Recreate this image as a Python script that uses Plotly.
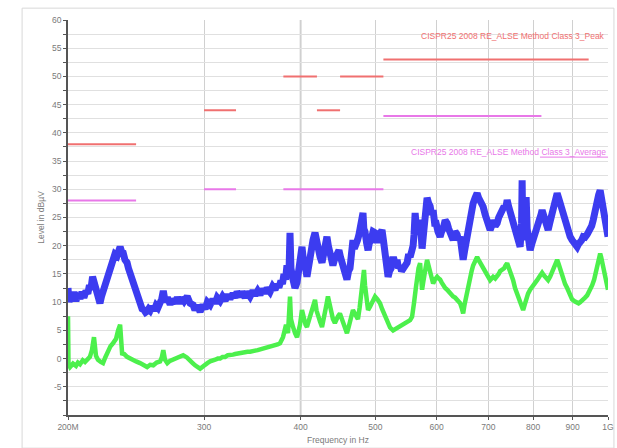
import plotly.graph_objects as go

# Frequency axis in MHz (log scale), levels in dBµV
peak_freq = [200, 200.6, 201.5, 202.4, 203.6, 204.8, 206, 207.3, 208.5, 209.7, 211, 212.2, 213.2, 214.1,
             215.2, 216.1, 217, 218, 219, 220, 221, 222, 223.3, 224.6, 225.6, 226.7, 227.7, 228.7, 230,
             231.5, 232.5, 233.6, 234.6, 235.7, 237, 238.5, 239.5, 240.6, 241.7, 242.8, 244.2, 245.6,
             246.7, 247.9, 249.4, 250.9, 252, 253.2, 254.3, 255.5, 257, 258.5, 260, 261.5, 263.2,
             264.5, 265.7, 267.2, 269, 271.2, 273, 275.2, 277, 279.4, 281, 282.8, 285.3, 287.8, 290.4,
             292, 293.9, 296.5, 299, 301, 303, 305.5, 308, 310.1, 312, 314.7, 317, 319.5, 322, 324.2,
             327, 329.1, 331, 334, 336, 339, 341, 344.1, 347, 349.3, 352, 354.5, 357, 359.8, 362,
             365.2, 368, 370.7, 373, 375, 377.3, 379, 380.7, 382.5, 384.1, 386.4, 387.6, 388.7, 391.1,
             393.4, 395.8, 398.2, 400, 401.7, 403, 404.1, 406, 407.7, 409.5, 411.4, 413, 415.1, 417.6,
             419.5, 421.3, 424, 426.4, 428.5, 430.2, 432.7, 434.5, 436.6, 438.5, 440.5, 442.5, 444.5,
             448.5, 450.5, 452.5, 454.5, 456.6, 459.3, 461.5, 463.5, 465.5, 467.6, 469.5, 471.8, 474,
             476.1, 479.0, 481.8, 483, 484.7, 487, 489.1, 491, 493.5, 496.5, 499.4, 501.5, 503.9, 507,
             509.9, 512, 514.6, 517, 519.2, 521.5, 523.9, 526, 528.6, 531, 533.3, 535.5, 538.1, 540.5,
             543, 546, 549.5, 552, 554.4, 557, 559.4, 561, 562.8, 565, 567.8, 569.5, 571.2, 573,
             574.6, 576.5, 578.0, 580.5, 583.2, 586, 588.5, 591, 593.8, 596.5, 599.1, 602.5, 606.3,
             609, 611.8, 615.5, 619.1, 622, 624.7, 627.5, 630.3, 634, 637.8, 640.5, 643.6, 646.5,
             649.4, 652, 655.2, 659, 663.1, 666, 669, 673, 677, 680, 683.1, 686, 689.3, 693.5, 697.5,
             700.5, 703.8, 707, 710.1, 714.5, 718.6, 722, 725.1, 729.5, 733.8, 737, 740.4, 743.5, 747,
             750.5, 753.7, 757, 760.5, 764, 767.3, 769.6, 773.0, 774.2, 775.4, 778.9, 781, 783.5,
             785.9, 789.5, 792.9, 797.5, 802.4, 806, 809.6, 813, 816.9, 819, 821.7, 825.5, 829.1,
             833, 836.6, 840.5, 844.1, 848, 851.8, 855.5, 859.4, 863, 867.1, 871, 874.9, 880, 885.4,
             889, 893.3, 898.5, 904.1, 908, 912.2, 916, 920.4, 924.5, 928.6, 934, 939.8, 944, 948.2,
             952.5, 956.7, 962.5, 968.2, 972.5, 976.9, 979.8, 982.8, 987, 991.6, 995.5, 1000]
peak_level = [12.5, 10, 11.5, 10.5, 11.8, 10.2, 11.5, 10.6, 11.8, 10.8, 12, 11.5, 13, 12.2,
              14.5, 13.5, 12, 11, 10.5, 9.8, 11, 11.8, 13, 13.8, 14.8, 15.5, 16.8, 17.5, 18.5,
              18.2, 19.5, 19.8, 19, 18.8, 17.5, 17, 16, 15.2, 14, 13.3, 12.2, 11.2,
              10.2, 9.6, 8.8, 8.6, 8.2, 8.4, 8.8, 8.5, 9.2, 8.5, 9.4, 9.0, 9.8,
              10.6, 12, 10, 10.8, 9.6, 10.5, 9.8, 10.8, 9.8, 10.8, 10.2, 11, 9.8, 9.5,
              8.6, 9.4, 8.3, 9.5, 8.8, 10, 9.5, 10.5, 9.8, 10.8, 10.2, 11, 10.3, 11.3, 10.6,
              11.5, 10.8, 11.8, 11, 11.8, 10.8, 11.8, 11, 12, 11.2, 12, 11.3, 12.3, 11.6, 12.5,
              11.8, 12.8, 12.2, 13.2, 12.6, 13.8, 13.2, 15, 14, 16.5, 15, 22.3, 16, 14,
              12.5, 13.5, 16, 17.5, 19.8, 18, 17.5, 16, 14.5, 16.5, 18, 19.5, 21, 22.3,
              20.5, 19.5, 18, 17, 18.5, 19, 21.6, 20, 19, 17.5, 16.5, 17.5, 18,
              19.2, 18, 17, 16, 15, 14, 15.5, 16, 18.5, 21, 19.5, 20, 21,
              22, 24, 25.8, 23, 22.5, 20.5, 19.2, 20.5, 21, 22.5, 22.3, 21, 21, 22,
              22.8, 21, 19, 16.5, 14.5, 15.5, 16, 17.5, 17.5, 16.5, 17.5, 16, 16.5, 15.5,
              15.8, 16.5, 17, 18.5, 18, 19, 20, 22, 25.8, 23, 22, 24.5, 24, 22,
              19.5, 21.5, 24, 26.5, 28.5, 27.5, 27, 25.5, 26.3, 24, 24, 22.5, 21.6,
              22.5, 23, 24.5, 24, 23, 22.5, 21.5, 21, 22.5, 22, 21, 21.6, 19.5,
              17.5, 19, 21, 23.5, 25, 26.5, 27.5, 28.5, 29.3, 28.5, 28, 27, 26.9, 25.5, 24.5,
              23.5, 22.8, 23.5, 24.5, 23.5, 24, 25, 25.5, 26.5, 27, 26.5, 28.1, 27, 26,
              25.5, 24.6, 23.5, 22.5, 21.5, 20.5, 19.8, 24, 31.6, 24, 21, 25, 28.6,
              23, 21, 19.2, 20.5, 21.5, 22, 22.8, 23.5, 24.5, 25.5, 26.3, 25.5, 24.5,
              23.5, 22.8, 24, 25, 26, 27, 28.5, 29.3, 28.5, 27.5, 26, 25.1, 24, 23,
              22.5, 21.6, 21, 20.5, 20, 19.8, 20.3, 20.5, 21, 21.6, 21.5, 22, 22.5, 22.8,
              23.5, 24.5, 26.5, 28.6, 29, 29.8, 28.5, 27.5, 26, 24.6, 23, 21.6]

avg_freq = [200, 200.3, 201.2, 203, 204.8, 206, 207.3, 209, 210.4, 212, 213.5, 214.8, 216.1, 217.4,
            218.7, 220.5, 222, 223.5, 225.3, 227, 228.7, 230.8, 232.2, 233.6, 235, 236.5, 238.5,
            240.5, 242.8, 245, 247.9, 250.5, 253.2, 255.5, 257.9, 260.5, 263.2, 264.5, 265.7, 267,
            268.9, 271, 273.6, 275.5, 277.7, 280, 281.9, 285, 287.8, 290, 292.1, 294, 296.5, 299,
            301, 303, 305.5, 308, 310.1, 312.5, 314.7, 317, 319.5, 322, 324.2, 327, 329.1, 331.5,
            334, 336.5, 339, 341.5, 344.1, 347, 349.3, 352, 354.5, 357, 359.8, 362.5, 365.2, 368,
            370.7, 373.5, 376.2, 378, 379.6, 381.5, 383, 385.3, 386.5, 387.6, 388.7, 390, 391.1,
            393.5, 395.8, 397.5, 399.3, 401.7, 403, 404.1, 406, 407.7, 410, 412.6, 415, 417.6,
            419.5, 421.3, 424, 426.4, 428.5, 430.2, 432, 434, 436, 437.9, 440.5, 443.1, 445,
            447.2, 449.8, 452.5, 455.2, 457, 459.3, 461.5, 463.5, 465.5, 467.6, 471, 474.6, 477,
            479, 481, 483.2, 484.7, 486.1, 489.1, 492, 495, 497, 499.4, 503, 506.9, 510, 513.0,
            517.6, 522.3, 527, 530, 533.3, 538.1, 541, 544.6, 549.5, 552, 554.4, 557.7, 559.5,
            561.1, 564, 566.1, 568.5, 571.2, 573, 574.6, 576.5, 578, 580.5, 583.2, 586, 588.5, 591,
            593.8, 597, 600.9, 603.5, 606.3, 609, 611.8, 615.5, 619.1, 622, 624.7, 627.5, 630.3,
            634, 637.8, 640.5, 643.6, 646.5, 649.4, 652, 655.2, 659, 663.1, 666, 669, 673, 677,
            680, 683.1, 686, 689.3, 693.5, 697.5, 700.5, 703.8, 707, 710.1, 714.5, 718.6, 722,
            725.1, 729.5, 733.8, 737, 740.4, 743.5, 747, 750.5, 753.7, 758, 762.7, 766, 769.6,
            773, 776.5, 780, 783.5, 788, 792.9, 797.5, 802.4, 806, 809.6, 815, 821.7, 825.5,
            829.1, 833, 836.6, 841.5, 846.7, 853, 859.4, 863, 867.1, 871, 874.9, 880, 885.4, 889,
            893.3, 898.5, 904.1, 908, 912.2, 916, 920.4, 924.5, 928.6, 934, 939.8, 944, 948.2,
            954, 959.6, 964, 968.2, 972.5, 976.9, 979.8, 982.8, 987, 991.6, 995.5, 1000]
avg_level = [7.5, -1, -1.5, -0.9, -1.3, -0.7, -1, -0.3, -0.6, 0, 0.3, 1.5, 3.8, 0.5,
             -0.2, -0.6, -0.8, 0.2, 1.5, 2.2, 2.7, 3.5, 5, 6, 0.9, 0.8, 0.3,
             0, -0.2, -0.5, -0.8, -1.2, -1.5, -1.1, -1.2, -0.7, -0.5, 0.2, 1.5, -0.2,
             -0.8, -0.4, -0.2, 0.1, 0.2, 0.4, 0.6, 0.2, -0.5, -0.8, -1.2, -1.5, -1.8, -1.4,
             -1.2, -0.8, -0.5, -0.4, -0.2, 0, 0, 0.3, 0.3, 0.6, 0.6, 0.7, 0.8, 0.9,
             0.9, 1.0, 1.1, 1.2, 1.2, 1.4, 1.4, 1.5, 1.6, 1.7, 1.8, 1.9, 2, 2.2,
             2.3, 2.5, 2.7, 3.2, 3.8, 5, 6, 4.5, 7, 11, 7, 6, 5.6,
             4.5, 3.8, 4.8, 6, 8.6, 7.5, 6.5, 6, 5.6, 6.8, 8, 9.5, 10.4,
             8.5, 7.5, 6.5, 5.6, 6.8, 8, 9.5, 11, 9.5, 8.5, 7, 6.3, 7,
             7.5, 8, 7, 6, 5.2, 4.5, 5.5, 6.5, 7.5, 8.6, 7.8, 7, 9,
             11, 13, 15.7, 13, 11, 8.6, 9.2, 10, 10.5, 11, 10.5, 9.8, 8.8, 8,
             6.9, 5.5, 5, 5.2, 5.3, 5.6, 5.8, 6, 6.3, 6.5, 6.8, 7.4, 8.5,
             10, 12.5, 15.2, 16, 16.9, 14, 12.2, 13.5, 15, 16, 17.5, 16.2, 15, 14,
             13.3, 14, 14.5, 14.2, 14, 13.5, 13, 12.5, 12.2, 11.8, 11.5, 11.2, 11,
             10.8, 10.5, 10.2, 9.8, 9, 8, 9.5, 11, 13, 14.5, 15.5, 16.5, 17.5, 18,
             17.5, 17, 16.5, 16.2, 15.5, 15, 14.5, 13.9, 14.2, 14.5, 14.2, 14.5, 15,
             15.5, 15.8, 16, 16.5, 16.9, 16.2, 15.5, 14.5, 13.9, 12.5, 11.5, 10.5, 9.8,
             9, 8.6, 9.5, 10.5, 11.5, 12.2, 12.6, 13, 13.5, 13.9, 14.5, 15.2, 14.8,
             14.5, 14.2, 13.9, 14.5, 15.5, 16.5, 17.5, 16.8, 16, 15, 13.9, 13.2, 12.5, 11.8,
             11, 10.5, 10.2, 10, 9.8, 9.8, 10, 10.2, 10.4, 10.8, 11.2, 11.7, 12.2,
             13, 14, 15, 16.2, 17.5, 18.6, 18, 17, 15.5, 14.5, 13.5, 12.2]

# Limit bands: (start MHz, stop MHz, level dBµV)
peak_limit_start = [200, 300, 380, 420, 450, 512]
peak_limit_stop = [245, 330, 420, 450, 512, 944]
peak_limit_level = [38, 44, 50, 44, 50, 53]

avg_limit_start = [200, 300, 380, 512]
avg_limit_stop = [245, 330, 512, 820]
avg_limit_level = [28, 30, 30, 43]

peak_limit_name = "CISPR25 2008 RE_ALSE Method Class 3_Peak"
avg_limit_name = "CISPR25 2008 RE_ALSE Method Class 3_Average"

x_tick_vals = [200, 300, 400, 500, 600, 700, 800, 900, 1000]
x_tick_text = ["200M", "300", "400", "500", "600", "700", "800", "900", "1G"]
y_tick_vals = [v / 2 for v in range(-20, 121, 5)]
y_tick_text = [("" if (v % 5 or v == -10) else str(int(v))) for v in y_tick_vals]

PEAK_COLOR = "#3c3cf0"
AVG_COLOR = "#4cf04c"
PEAK_LIMIT_COLOR = "#f07070"
AVG_LIMIT_COLOR = "#e878e8"
TEXT_COLOR = "#7a7a7a"
FONT = "Liberation Sans, Arial, sans-serif"

fig = go.Figure()

# limit lines, each band its own segment
for f0, f1, lv in zip(peak_limit_start, peak_limit_stop, peak_limit_level):
    fig.add_trace(go.Scatter(x=[f0, f1], y=[lv, lv], mode="lines",
                             line=dict(color=PEAK_LIMIT_COLOR, width=2), hoverinfo="skip"))
for f0, f1, lv in zip(avg_limit_start, avg_limit_stop, avg_limit_level):
    fig.add_trace(go.Scatter(x=[f0, f1], y=[lv, lv], mode="lines",
                             line=dict(color=AVG_LIMIT_COLOR, width=2), hoverinfo="skip"))

# measured spectra
fig.add_trace(go.Scatter(x=peak_freq, y=peak_level, mode="lines",
                         line=dict(color=PEAK_COLOR, width=7), name="Peak"))
fig.add_trace(go.Scatter(x=avg_freq, y=avg_level, mode="lines",
                         line=dict(color=AVG_COLOR, width=4.5), name="Average"))

# darker grid line at 400 MHz
fig.add_shape(type="line", xref="x", yref="paper", x0=x_tick_vals[2], x1=x_tick_vals[2],
              y0=0, y1=1, line=dict(color="#a8a8a8", width=1.5), layer="below")

# outer panel frame
fig.add_shape(type="rect", xref="paper", yref="paper", x0=-0.085, x1=1.011, y0=-0.084, y1=1.030,
              line=dict(color="#d8d8d8", width=1), layer="below")

fig.add_annotation(xref="paper", yref="y", x=0.998, y=57.2, xanchor="right", yanchor="middle",
                   text=peak_limit_name, showarrow=False,
                   font=dict(family=FONT, size=8.5, color=PEAK_LIMIT_COLOR))
fig.add_annotation(xref="paper", yref="y", x=1.0, y=36.6, xanchor="right", yanchor="middle",
                   text=avg_limit_name, showarrow=False,
                   font=dict(family=FONT, size=8.5, color=AVG_LIMIT_COLOR))
# underline beneath the class name of the average limit label
fig.add_shape(type="line", xref="paper", yref="y", x0=0.874, x1=1.0, y0=35.7, y1=35.7,
              line=dict(color=AVG_LIMIT_COLOR, width=1))

fig.update_layout(
    width=617, height=448,
    margin=dict(l=68, r=9, t=20, b=33),
    paper_bgcolor="white", plot_bgcolor="white",
    showlegend=False,
    font=dict(family=FONT, size=8.5, color=TEXT_COLOR),
)
fig.update_xaxes(type="log", range=[2.30103, 3.0], tickvals=x_tick_vals, ticktext=x_tick_text,
                 automargin=False,
                 showgrid=True, gridcolor="#d0d0d0", gridwidth=1,
                 showline=True, linecolor="#555555", linewidth=1.5,
                 ticks="outside", ticklen=3, tickcolor="#555555",
                 tickfont=dict(size=8.5, color=TEXT_COLOR),
                 title=dict(text="Frequency in Hz", font=dict(size=8.5, color=TEXT_COLOR), standoff=6),
                 zeroline=False)
fig.update_yaxes(range=[-10, 60], tickvals=y_tick_vals, ticktext=y_tick_text,
                 automargin=False,
                 showgrid=True, gridcolor="#e0e0e0", gridwidth=1,
                 showline=True, linecolor="#555555", linewidth=1.5,
                 ticks="outside", ticklen=3, tickcolor="#555555",
                 tickfont=dict(size=8.5, color=TEXT_COLOR),
                 title=dict(text="Level in dBµV", font=dict(size=8.5, color=TEXT_COLOR), standoff=6),
                 zeroline=False)

fig.write_html("out.html")
